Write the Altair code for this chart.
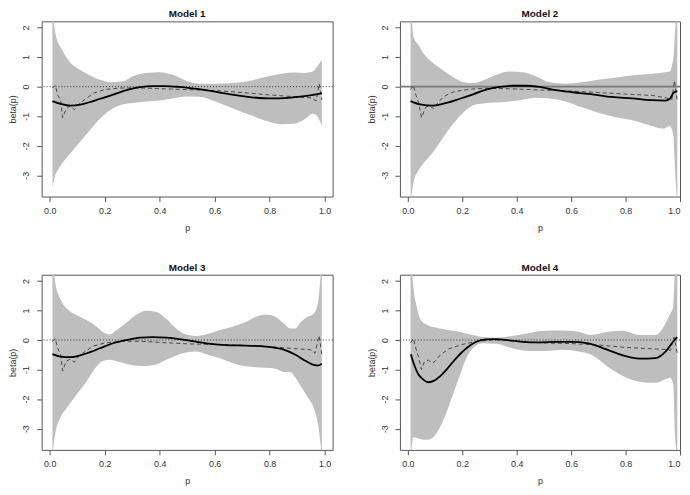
import altair as alt
import pandas as pd

# ---------------- Model 1 ----------------
m1_band_p = [0.01, 0.02, 0.03, 0.045, 0.063, 0.08, 0.11, 0.147, 0.183, 0.219, 0.267, 0.303, 0.351, 0.399,
             0.447, 0.495, 0.543, 0.603, 0.663, 0.735, 0.795, 0.843, 0.891, 0.927, 0.957, 0.973, 0.99]
m1_band_hi = [2.6, 1.85, 1.5, 1.25, 0.96, 0.77, 0.57, 0.38, 0.23, 0.15, 0.18, 0.35, 0.46, 0.49,
              0.4, 0.21, 0.1, 0.1, 0.12, 0.21, 0.35, 0.44, 0.48, 0.46, 0.51, 0.68, 0.9]
m1_band_lo = [-3.4, -3.0, -2.82, -2.6, -2.39, -2.2, -1.87, -1.47, -1.09, -0.8, -0.6, -0.55, -0.5, -0.47,
              -0.4, -0.33, -0.34, -0.5, -0.72, -0.98, -1.18, -1.27, -1.25, -1.1, -0.92, -1.0, -1.33]
m1_fit_p = [0.01, 0.04, 0.075, 0.111, 0.147, 0.183, 0.231, 0.279, 0.327, 0.375, 0.423, 0.471, 0.519,
            0.567, 0.615, 0.663, 0.735, 0.807, 0.867, 0.927, 0.963, 0.99]
m1_fit_b = [-0.49, -0.58, -0.64, -0.61, -0.52, -0.41, -0.27, -0.12, -0.02, 0.02, 0.02, -0.01, -0.06,
            -0.12, -0.19, -0.27, -0.36, -0.4, -0.38, -0.32, -0.27, -0.22]
m1_dash_p = [0.01, 0.02, 0.03, 0.04, 0.047, 0.06, 0.075, 0.09, 0.105, 0.13, 0.16, 0.2, 0.25, 0.3, 0.35,
             0.4, 0.5, 0.6, 0.7, 0.8, 0.9, 0.95, 0.97, 0.98, 0.99]
m1_dash_b = [-0.05, 0.05, -0.3, -0.45, -1.05, -0.75, -0.65, -0.78, -0.6, -0.42, -0.22, -0.1, -0.05, -0.04,
             -0.05, -0.07, -0.1, -0.13, -0.2, -0.28, -0.35, -0.38, -0.48, 0.1, -0.45]

# ---------------- Model 2 ----------------
m2_band_p = [0.01, 0.021, 0.039, 0.057, 0.094, 0.13, 0.167, 0.203, 0.24, 0.276, 0.325, 0.373, 0.422, 0.47,
             0.52, 0.58, 0.64, 0.70, 0.775, 0.836, 0.897, 0.939, 0.963, 0.97, 0.976, 0.98, 0.99]
m2_band_hi = [3.0, 1.69, 1.41, 1.13, 0.79, 0.55, 0.32, 0.16, 0.12, 0.21, 0.4, 0.51, 0.49, 0.35,
              0.15, 0.1, 0.15, 0.23, 0.32, 0.39, 0.44, 0.48, 0.51, 0.7, 1.0, 1.6, 3.0]
m2_band_lo = [-3.9, -3.23, -2.84, -2.6, -2.2, -1.72, -1.25, -0.88, -0.63, -0.57, -0.54, -0.5, -0.44, -0.38,
              -0.4, -0.5, -0.7, -0.88, -1.05, -1.16, -1.33, -1.42, -1.33, -1.45, -1.7, -2.5, -4.0]
m2_fit_p = [0.01, 0.045, 0.094, 0.142, 0.191, 0.24, 0.288, 0.337, 0.386, 0.434, 0.483, 0.532, 0.605,
            0.678, 0.75, 0.824, 0.897, 0.945, 0.963, 0.976, 0.99]
m2_fit_b = [-0.49, -0.6, -0.64, -0.55, -0.41, -0.26, -0.1, -0.01, 0.03, 0.03, -0.01, -0.1, -0.19,
            -0.26, -0.35, -0.4, -0.46, -0.47, -0.41, -0.21, -0.15]
m2_dash_p = [0.01, 0.02, 0.03, 0.04, 0.05, 0.065, 0.08, 0.095, 0.11, 0.13, 0.16, 0.2, 0.25, 0.3, 0.4,
             0.5, 0.6, 0.7, 0.8, 0.9, 0.95, 0.97, 0.98, 0.99]
m2_dash_b = [-0.1, 0.05, -0.3, -0.55, -1.05, -0.7, -0.65, -0.75, -0.55, -0.35, -0.2, -0.12, -0.07, -0.05,
             -0.08, -0.12, -0.15, -0.2, -0.25, -0.3, -0.38, -0.45, 0.2, -0.5]

# ---------------- Model 3 ----------------
m3_band_p = [0.01, 0.02, 0.039, 0.063, 0.099, 0.135, 0.171, 0.195, 0.219, 0.243, 0.28, 0.316, 0.352, 0.388,
             0.424, 0.46, 0.496, 0.533, 0.569, 0.617, 0.665, 0.713, 0.749, 0.786, 0.822, 0.852, 0.876,
             0.894, 0.912, 0.936, 0.96, 0.978, 0.99]
m3_band_hi = [3.0, 1.95, 1.39, 1.06, 0.84, 0.67, 0.45, 0.26, 0.19, 0.33, 0.59, 0.86, 0.99, 0.95,
              0.72, 0.39, 0.19, 0.14, 0.19, 0.33, 0.45, 0.61, 0.78, 0.86, 0.78, 0.56, 0.39,
              0.39, 0.59, 0.78, 0.89, 1.39, 3.0]
m3_band_lo = [-3.9, -3.18, -2.62, -2.29, -1.84, -1.39, -0.89, -0.7, -0.67, -0.72, -0.81, -0.87, -0.88, -0.83,
              -0.67, -0.52, -0.42, -0.39, -0.48, -0.61, -0.78, -0.89, -0.92, -0.94, -0.97, -1.08, -1.08,
              -1.28, -1.55, -1.9, -2.29, -2.95, -4.0]
m3_fit_p = [0.01, 0.039, 0.075, 0.111, 0.147, 0.183, 0.231, 0.28, 0.328, 0.376, 0.424, 0.472, 0.52, 0.569,
            0.641, 0.713, 0.786, 0.846, 0.894, 0.93, 0.96, 0.978, 0.99]
m3_fit_b = [-0.48, -0.56, -0.58, -0.52, -0.41, -0.28, -0.11, 0.0, 0.08, 0.1, 0.08, 0.03, -0.04, -0.11,
            -0.17, -0.19, -0.22, -0.31, -0.5, -0.7, -0.84, -0.86, -0.8]
m3_dash_p = [0.01, 0.02, 0.03, 0.04, 0.047, 0.06, 0.075, 0.09, 0.105, 0.13, 0.16, 0.2, 0.25, 0.3, 0.35,
             0.4, 0.5, 0.6, 0.7, 0.8, 0.9, 0.95, 0.965, 0.98, 0.99]
m3_dash_b = [-0.05, 0.05, -0.3, -0.5, -1.05, -0.72, -0.65, -0.75, -0.55, -0.38, -0.2, -0.1, -0.05, -0.04,
             -0.05, -0.08, -0.13, -0.15, -0.18, -0.22, -0.3, -0.33, -0.45, 0.15, -0.5]

# ---------------- Model 4 ----------------
m4_band_p = [0.01, 0.021, 0.033, 0.045, 0.069, 0.093, 0.118, 0.142, 0.166, 0.19, 0.215, 0.239, 0.275,
             0.324, 0.384, 0.445, 0.505, 0.566, 0.627, 0.67, 0.742, 0.79, 0.85, 0.91, 0.946, 0.964,
             0.975, 0.982, 0.99]
m4_band_hi = [3.0, 1.73, 1.11, 0.72, 0.52, 0.44, 0.39, 0.35, 0.31, 0.27, 0.22, 0.17, 0.1,
              0.08, 0.14, 0.24, 0.31, 0.32, 0.28, 0.17, 0.29, 0.31, 0.17, 0.17, 0.55, 0.9,
              1.1, 2.5, 3.0]
m4_band_lo = [-4.0, -3.29, -3.32, -3.35, -3.38, -3.29, -2.95, -2.45, -1.84, -1.23, -0.61, -0.28, -0.11,
              -0.13, -0.28, -0.37, -0.37, -0.33, -0.39, -0.48, -0.95, -1.22, -1.41, -1.45, -1.33, -1.28,
              -1.5, -3.3, -4.0]
m4_fit_p = [0.011, 0.021, 0.039, 0.057, 0.075, 0.093, 0.118, 0.142, 0.178, 0.215, 0.251, 0.287, 0.324,
            0.372, 0.421, 0.481, 0.542, 0.602, 0.663, 0.724, 0.79, 0.85, 0.91, 0.946, 0.975, 0.99]
m4_fit_b = [-0.48, -0.78, -1.17, -1.34, -1.43, -1.39, -1.23, -1.0, -0.61, -0.28, -0.06, 0.02, 0.03,
            -0.01, -0.06, -0.08, -0.06, -0.06, -0.11, -0.3, -0.52, -0.63, -0.61, -0.4, -0.05, 0.1]
m4_dash_p = [0.01, 0.02, 0.03, 0.04, 0.05, 0.06, 0.075, 0.09, 0.1, 0.12, 0.15, 0.2, 0.25, 0.3, 0.35, 0.4,
             0.5, 0.6, 0.7, 0.8, 0.9, 0.95, 0.965, 0.978, 0.99]
m4_dash_b = [-0.1, 0.05, -0.3, -0.6, -1.0, -0.75, -0.68, -0.78, -0.72, -0.5, -0.3, -0.15, -0.05, 0.0, 0.0,
             -0.05, -0.1, -0.12, -0.17, -0.25, -0.3, -0.32, -0.35, 0.1, -0.45]

titles = ["Model 1", "Model 2", "Model 3", "Model 4"]
x_ticks = [0.0, 0.2, 0.4, 0.6, 0.8, 1.0]
y_ticks = [-3, -2, -1, 0, 1, 2]

X_DOM_LEFT = [-0.0292, 1.0292]
X_DOM_RIGHT = [-0.0291, 1.0]   # right-hand panels are cut at the page edge, as in the picture
Y_DOM = [-3.72, 2.21]


def panel(title, bp, bhi, blo, fp, fb, dp, db, zero_solid, width, xdom, flush):
    band = pd.DataFrame({"p": bp, "hi": bhi, "lo": blo})
    fit = pd.DataFrame({"p": fp, "b": fb})
    dash = pd.DataFrame({"p": dp, "b": db})
    zero = pd.DataFrame({"z": [0]})
    xs = alt.Scale(domain=xdom, nice=False, zero=False)
    ys = alt.Scale(domain=Y_DOM, nice=False, zero=False)
    xax = alt.Axis(values=x_ticks, labelExpr="format(datum.value, '.1f')", title="p", labelFlush=flush)
    yax = alt.Axis(values=y_ticks, labelExpr="datum.value + ''", labelAngle=-90, title="beta(p)",
                   labelFlush=False)
    area = alt.Chart(band).mark_area(color="#bebebe", opacity=1, clip=True, interpolate="monotone").encode(
        x=alt.X("p:Q", scale=xs, axis=xax),
        y=alt.Y("lo:Q", scale=ys, axis=yax),
        y2="hi:Q",
    )
    if zero_solid:
        zmark = alt.Chart(zero).mark_rule(color="#7a7a7a", strokeWidth=1.6)
    else:
        zmark = alt.Chart(zero).mark_rule(color="#333333", strokeWidth=1, strokeDash=[1, 2])
    zline = zmark.encode(y=alt.Y("z:Q", scale=ys, axis=yax))
    dline = alt.Chart(dash).mark_line(color="#3a3a3a", strokeWidth=0.9, strokeDash=[4, 3], clip=True).encode(
        x=alt.X("p:Q", scale=xs, axis=xax),
        y=alt.Y("b:Q", scale=ys, axis=yax),
    )
    sline = alt.Chart(fit).mark_line(color="#000000", strokeWidth=1.8, clip=True,
                                     interpolate="monotone").encode(
        x=alt.X("p:Q", scale=xs, axis=xax),
        y=alt.Y("b:Q", scale=ys, axis=yax),
    )
    return alt.layer(area, zline, dline, sline).properties(
        width=width, height=177, title=alt.TitleParams(title, anchor="middle"))


p1 = panel(titles[0], m1_band_p, m1_band_hi, m1_band_lo, m1_fit_p, m1_fit_b, m1_dash_p, m1_dash_b,
           False, 294, X_DOM_LEFT, False)
p2 = panel(titles[1], m2_band_p, m2_band_hi, m2_band_lo, m2_fit_p, m2_fit_b, m2_dash_p, m2_dash_b,
           True, 283, X_DOM_RIGHT, True)
p3 = panel(titles[2], m3_band_p, m3_band_hi, m3_band_lo, m3_fit_p, m3_fit_b, m3_dash_p, m3_dash_b,
           False, 294, X_DOM_LEFT, False)
p4 = panel(titles[3], m4_band_p, m4_band_hi, m4_band_lo, m4_fit_p, m4_fit_b, m4_dash_p, m4_dash_b,
           False, 283, X_DOM_RIGHT, True)

chart = alt.vconcat(
    alt.hconcat(p1, p2, spacing=33),
    alt.hconcat(p3, p4, spacing=33),
    spacing=29,
).properties(
    padding={"left": 0, "top": -2, "right": 0, "bottom": 0}
).configure_view(
    stroke="#555555", strokeWidth=1
).configure_axis(
    domain=False, grid=False, tickSize=5, tickColor="#555555",
    labelFont="Liberation Sans", labelFontSize=9, labelColor="#333333",
    titleFont="Liberation Sans", titleFontSize=9, titleFontWeight="normal", titleColor="#333333",
).configure_axisX(
    labelPadding=5, titlePadding=8
).configure_axisY(
    labelPadding=6, titlePadding=4
).configure_title(
    font="Liberation Sans", fontSize=10, fontWeight="bold", offset=2, color="#111111"
)

chart.save("out.html", embed_options={"renderer": "svg", "actions": False})
